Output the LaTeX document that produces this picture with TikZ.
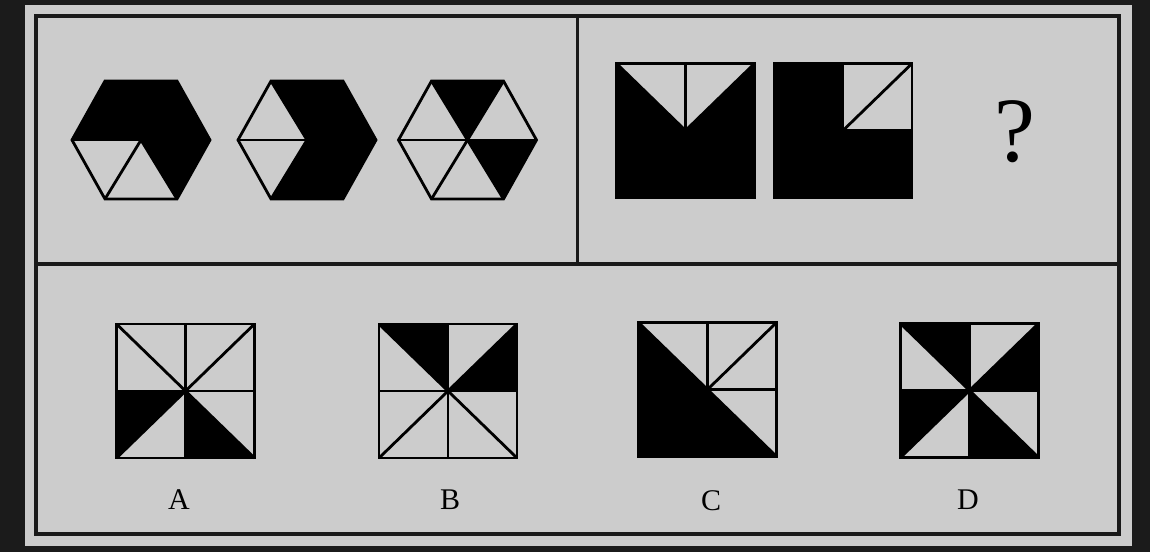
\documentclass[tikz,border=0pt]{standalone}
\usepackage{fontspec}
\setmainfont{Liberation Serif}
\definecolor{bgdark}{HTML}{1B1B1B}
\definecolor{panel}{HTML}{CCCCCC}
\tikzset{
  frameline/.style={line width=3.2pt, draw=black!90},
  figline/.style={line width=2.8pt, draw=black, line join=miter},
  blackpart/.style={fill=black, draw=black, line width=0.6pt},
  optlabel/.style={font=\fontsize{30}{30}\selectfont, inner sep=0pt},
}
\newcommand{\sqfig}[3]{%
  \begin{scope}[shift={(#1,#2)}]
    \coordinate (p1) at (-69,-67);
    \coordinate (p2) at (0,-67);
    \coordinate (p3) at (69,-67);
    \coordinate (p4) at (69,0);
    \coordinate (p5) at (69,67);
    \coordinate (p6) at (0,67);
    \coordinate (p7) at (-69,67);
    \coordinate (p8) at (-69,0);
    \coordinate (p9) at (-69,-67);
    \foreach \i in {#3} {
      \pgfmathtruncatemacro\j{\i+1}
      \path[blackpart] (0,0) -- (p\i) -- (p\j) -- cycle;
    }
    \foreach \i in {1,...,8} { \draw[figline] (0,0) -- (p\i); }
    \draw[figline] (p1) rectangle (p5);
  \end{scope}}
\newcommand{\hexfig}[3]{%
  \begin{scope}[shift={(#1,#2)}]
    \coordinate (q1) at (69,0);
    \coordinate (q2) at (36,59);
    \coordinate (q3) at (-36,59);
    \coordinate (q4) at (-69,0);
    \coordinate (q5) at (-36,-59);
    \coordinate (q6) at (36,-59);
    \coordinate (q7) at (69,0);
    \foreach \i in {#3} {
      \pgfmathtruncatemacro\j{\i+1}
      \path[blackpart] (0,0) -- (q\i) -- (q\j) -- cycle;
    }
    \foreach \i in {1,...,6} { \draw[figline] (0,0) -- (q\i); }
    \draw[figline] (q1) -- (q2) -- (q3) -- (q4) -- (q5) -- (q6) -- cycle;
  \end{scope}}
\begin{document}
\begin{tikzpicture}[x=1pt,y=-1pt]
  \useasboundingbox (0,0) rectangle (1150,552);
  \fill[bgdark] (0,0) rectangle (1150,552);
  \fill[panel] (25,5) rectangle (1132,546);
  % frame
  \draw[frameline] (36,16) rectangle (1119,534);
  \coordinate (hl) at (36,264);
  \coordinate (hr) at (1119,264);
  \coordinate (vt) at (577.5,16);
  \coordinate (vb) at (577.5,264);
  \draw[frameline] (hl) -- (hr);
  \draw[frameline] (vt) -- (vb);
  % hexagons
  \hexfig{141}{140}{1,4,5,6}
  \hexfig{307}{140}{1,2,5,6}
  \hexfig{467.5}{140}{1,5}
  % squares, top row
  \sqfig{685.5}{130.5}{3,4,5,6,7,8}
  \sqfig{843}{130.5}{1,4,5,6,7,8}
  \node[font=\fontsize{92}{92}\selectfont, inner sep=0pt] (qm) at (1015,132) {?};
  % options
  \sqfig{185.5}{391}{5,7}
  \sqfig{448}{391}{1,3}
  \sqfig{707.5}{389.5}{5,6,7,8}
  \sqfig{969.5}{390.5}{1,3,5,7}
  \node[optlabel] (la) at (179,500) {A};
  \node[optlabel] (lb) at (450,500) {B};
  \node[optlabel] (lc) at (711,501) {C};
  \node[optlabel] (ld) at (968,500) {D};
\end{tikzpicture}
\end{document}
